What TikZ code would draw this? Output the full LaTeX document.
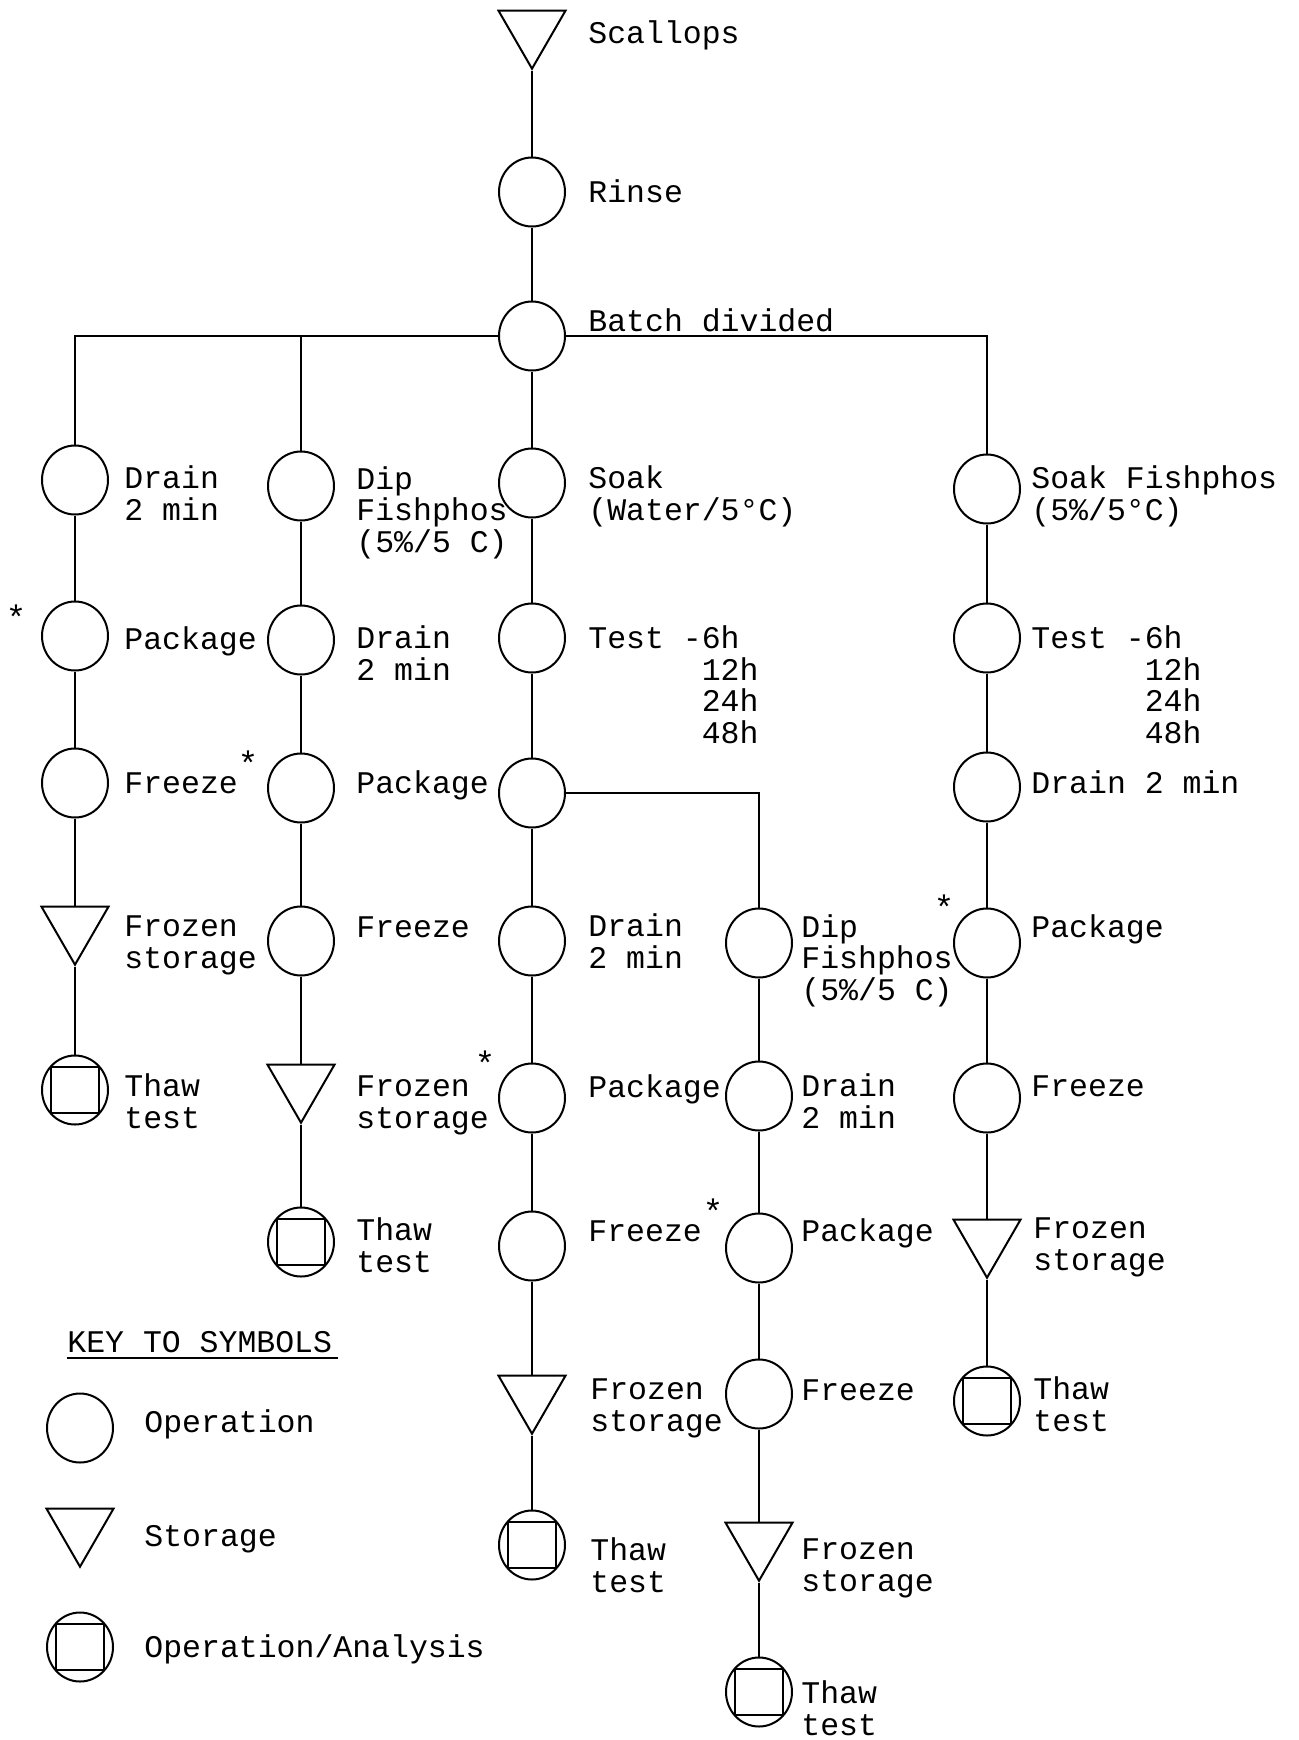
\documentclass[tikz,border=0pt]{standalone}
\usepackage{fontspec}
\setmonofont{Liberation Mono}
\newfontfamily\lbfont{Liberation Mono}
\usetikzlibrary{shapes.geometric}
\tikzset{
  op/.style={ellipse, draw, line width=1pt, minimum width=33pt, minimum height=34.5pt, inner sep=0pt},
  stor/.style={regular polygon, regular polygon sides=3, shape border rotate=180, draw, line width=1pt, minimum size=38.7pt, inner sep=0pt},
  opan/.style={op, path picture={\draw[line width=1pt] ([shift={(-12pt,-11.5pt)}]path picture bounding box.center) rectangle ([shift={(12pt,11.5pt)}]path picture bounding box.center);}},
  lbl/.style={anchor=base west, inner sep=0pt, align=left, font=\lbfont\fontsize{15.75pt}{15.7pt}\selectfont},
  ast/.style={inner sep=0pt, font=\lbfont\fontsize{17pt}{17pt}\selectfont},
  link/.style={line width=0.9pt}
}
\newcommand{\testblock}{Test -6h\\\hphantom{Test -}12h\\\hphantom{Test -}24h\\\hphantom{Test -}48h}
\begin{document}
\begin{tikzpicture}[x=0.5pt,y=-0.5pt]
\useasboundingbox (0,0) rectangle (1299,1740);
% top
\node[stor] (sc) at (532,30) {};
\node[op] (rinse) at (532,192) {};
\node[op] (batch) at (532,336) {};
\node[lbl] (lsc) at (588,43) {Scallops};
\node[lbl] (lrinse) at (588,202) {Rinse};
\node[lbl] (lbatch) at (588,331) {Batch divided};
% column 1
\node[op] (c1r1) at (75,480) {};
\node[op] (c1r2) at (75,636) {};
\node[op] (c1r3) at (75,783) {};
\node[stor] (c1r4) at (75,926) {};
\node[opan] (c1r5) at (75,1090) {};
% column 2
\node[op] (c2r1) at (301,486) {};
\node[op] (c2r2) at (301,640) {};
\node[op] (c2r3) at (301,788) {};
\node[op] (c2r4) at (301,941) {};
\node[stor] (c2r5) at (301,1084) {};
\node[opan] (c2r6) at (301,1242) {};
% column 3
\node[op] (c3r1) at (532,483) {};
\node[op] (c3r2) at (532,638) {};
\node[op] (c3r3) at (532,793) {};
\node[op] (c3r4) at (532,941) {};
\node[op] (c3r5) at (532,1098) {};
\node[op] (c3r6) at (532,1246) {};
\node[stor] (c3r7) at (532,1395) {};
\node[opan] (c3r8) at (532,1545) {};
% column 4
\node[op] (c4r4) at (759,943) {};
\node[op] (c4r5) at (759,1096) {};
\node[op] (c4r6) at (759,1248) {};
\node[op] (c4r7) at (759,1394) {};
\node[stor] (c4r8) at (759,1542) {};
\node[opan] (c4r9) at (759,1692) {};
% column 5
\node[op] (c5r1) at (987,489) {};
\node[op] (c5r2) at (987,638) {};
\node[op] (c5r3) at (987,787) {};
\node[op] (c5r4) at (987,943) {};
\node[op] (c5r5) at (987,1098) {};
\node[stor] (c5r6) at (987,1239) {};
\node[opan] (c5r7) at (987,1401) {};
% connectors
\draw[link] (sc) -- (rinse) -- (batch) -- (c3r1);
\draw[link] (batch) -| (c1r1);
\draw[link] (batch) -| (c2r1);
\draw[link] (batch) -| (c5r1);
\draw[link] (c1r1) -- (c1r2) -- (c1r3) -- (c1r4) -- (c1r5);
\draw[link] (c2r1) -- (c2r2) -- (c2r3) -- (c2r4) -- (c2r5) -- (c2r6);
\draw[link] (c3r1) -- (c3r2) -- (c3r3) -- (c3r4) -- (c3r5) -- (c3r6) -- (c3r7) -- (c3r8);
\draw[link] (c3r3) -| (c4r4);
\draw[link] (c4r4) -- (c4r5) -- (c4r6) -- (c4r7) -- (c4r8) -- (c4r9);
\draw[link] (c5r1) -- (c5r2) -- (c5r3) -- (c5r4) -- (c5r5) -- (c5r6) -- (c5r7);
% labels row 1 (anchor = baseline of last line)
\node[lbl] (l11) at (124,520) {Drain\\2 min};
\node[lbl] (l21) at (356,552) {Dip\\Fishphos\\(5\%/5 C)};
\node[lbl] (l31) at (588,520) {Soak\\(Water/5°C)};
\node[lbl] (l51) at (1031,520) {Soak Fishphos\\(5\%/5°C)};
% row 2
\node[ast] (s1) at (16,617) {*};
\node[lbl] (l12) at (124,649) {Package};
\node[lbl] (l22) at (356,680) {Drain\\2 min};
\node[lbl] (l32) at (588,743) {\testblock};
\node[lbl] (l52) at (1031,743) {\testblock};
% row 3
\node[lbl] (l13) at (124,793) {Freeze};
\node[ast] (s2) at (248,763) {*};
\node[lbl] (l23) at (356,793) {Package};
\node[lbl] (l53) at (1031,793) {Drain 2 min};
% row 4
\node[lbl] (l14) at (124,968) {Frozen\\storage};
\node[lbl] (l24) at (356,937) {Freeze};
\node[lbl] (l34) at (588,968) {Drain\\2 min};
\node[lbl] (l44) at (801,1000) {Dip\\Fishphos\\(5\%/5 C)};
\node[ast] (s5) at (944,907) {*};
\node[lbl] (l54) at (1031,937) {Package};
% row 5
\node[lbl] (l15) at (124,1128) {Thaw\\test};
\node[lbl] (l25) at (356,1128) {Frozen\\storage};
\node[ast] (s3) at (485,1063) {*};
\node[lbl] (l35) at (588,1097) {Package};
\node[lbl] (l45) at (801,1128) {Drain\\2 min};
\node[lbl] (l55) at (1031,1096) {Freeze};
% row 6
\node[lbl] (l26) at (356,1272) {Thaw\\test};
\node[lbl] (l36) at (588,1241) {Freeze};
\node[ast] (s4) at (713,1211) {*};
\node[lbl] (l46) at (801,1241) {Package};
\node[lbl] (l56) at (1033,1270) {Frozen\\storage};
% row 7
\node[lbl] (l37) at (590,1431) {Frozen\\storage};
\node[lbl] (l47) at (801,1400) {Freeze};
\node[lbl] (l57) at (1033,1431) {Thaw\\test};
% row 8, 9
\node[lbl] (l38) at (590,1592) {Thaw\\test};
\node[lbl] (l48) at (801,1591) {Frozen\\storage};
\node[lbl] (l49) at (801,1735) {Thaw\\test};
% legend
\node[lbl] (key) at (67,1352) {KEY TO SYMBOLS};
\draw[link] ([yshift=-3pt]key.base west) -- ([yshift=-3pt,xshift=3pt]key.base east);
\node[op] (kop) at (80,1428) {};
\node[lbl] (lkop) at (144,1432) {Operation};
\node[stor] (kst) at (80,1528) {};
\node[lbl] (lkst) at (144,1546) {Storage};
\node[opan] (kopan) at (80,1647) {};
\node[lbl] (lkopan) at (144,1657) {Operation/Analysis};
\end{tikzpicture}
\end{document}
